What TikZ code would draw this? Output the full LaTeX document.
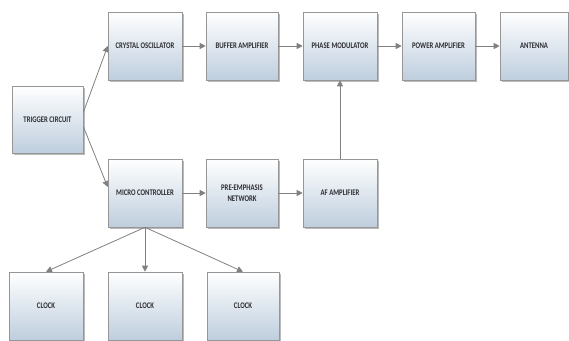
\documentclass[tikz,border=0pt]{standalone}
\usepackage{fontspec}
\newfontfamily\boxfont[FakeStretch=0.78]{Carlito}
\usetikzlibrary{arrows.meta,shadows}
\definecolor{boxbot}{RGB}{190,206,222}
\definecolor{boxline}{RGB}{150,150,150}
\definecolor{arrowgray}{RGB}{128,128,128}
\definecolor{txt}{RGB}{45,45,50}
\begin{document}
\begin{tikzpicture}[x=1pt,y=-1pt,
  blockbox/.style={draw=boxline,line width=0.6pt,top color=white,bottom color=boxbot,
    minimum width=74pt,minimum height=68pt,inner sep=1pt,align=center,
    font=\boxfont\bfseries\fontsize{8.6}{10.5}\selectfont,text=txt,
    drop shadow={shadow xshift=1.5pt,shadow yshift=-1.5pt,fill=black!45,opacity=0.6}},
  conn/.style={draw=arrowgray,line width=0.8pt,-{Triangle[length=6pt,width=6pt]},arrowgray}]
\useasboundingbox (0,0) rectangle (569,340);
\node[blockbox,minimum width=71pt,minimum height=67pt] (trig) at (47.5,119.5) {TRIGGER CIRCUIT};
\node[blockbox] (cryst) at (145,46) {CRYSTAL OSCILLATOR};
\node[blockbox,minimum width=72pt] (buf) at (242,46) {BUFFER AMPLIFIER};
\node[blockbox] (phase) at (340,46) {PHASE MODULATOR};
\node[blockbox,minimum width=73pt] (power) at (438.5,46) {POWER AMPLIFIER};
\node[blockbox,minimum width=68pt] (ant) at (534,46) {ANTENNA};
\node[blockbox] (micro) at (145,193) {MICRO CONTROLLER};
\node[blockbox,minimum width=72pt] (pre) at (242,193) {PRE-EMPHASIS\\NETWORK};
\node[blockbox] (af) at (340,193) {AF AMPLIFIER};
\node[blockbox] (clk1) at (46,306) {CLOCK};
\node[blockbox] (clk2) at (145,306) {CLOCK};
\node[blockbox,minimum width=72pt] (clk3) at (243,306) {CLOCK};
\draw[conn] ([yshift=7pt]trig.east) -- (cryst.west);
\draw[conn] ([yshift=-7pt]trig.east) -- ([yshift=6pt]micro.west);
\draw[conn] (cryst) -- (buf);
\draw[conn] (buf) -- (phase);
\draw[conn] (phase) -- (power);
\draw[conn] (power) -- (ant);
\draw[conn] (micro) -- (pre);
\draw[conn] (pre) -- (af);
\draw[conn] (af) -- (phase);
\draw[conn] (micro.south) -- (clk1.north);
\draw[conn] (micro.south) -- (clk2.north);
\draw[conn] (micro.south) -- (clk3.north);
\end{tikzpicture}
\end{document}
